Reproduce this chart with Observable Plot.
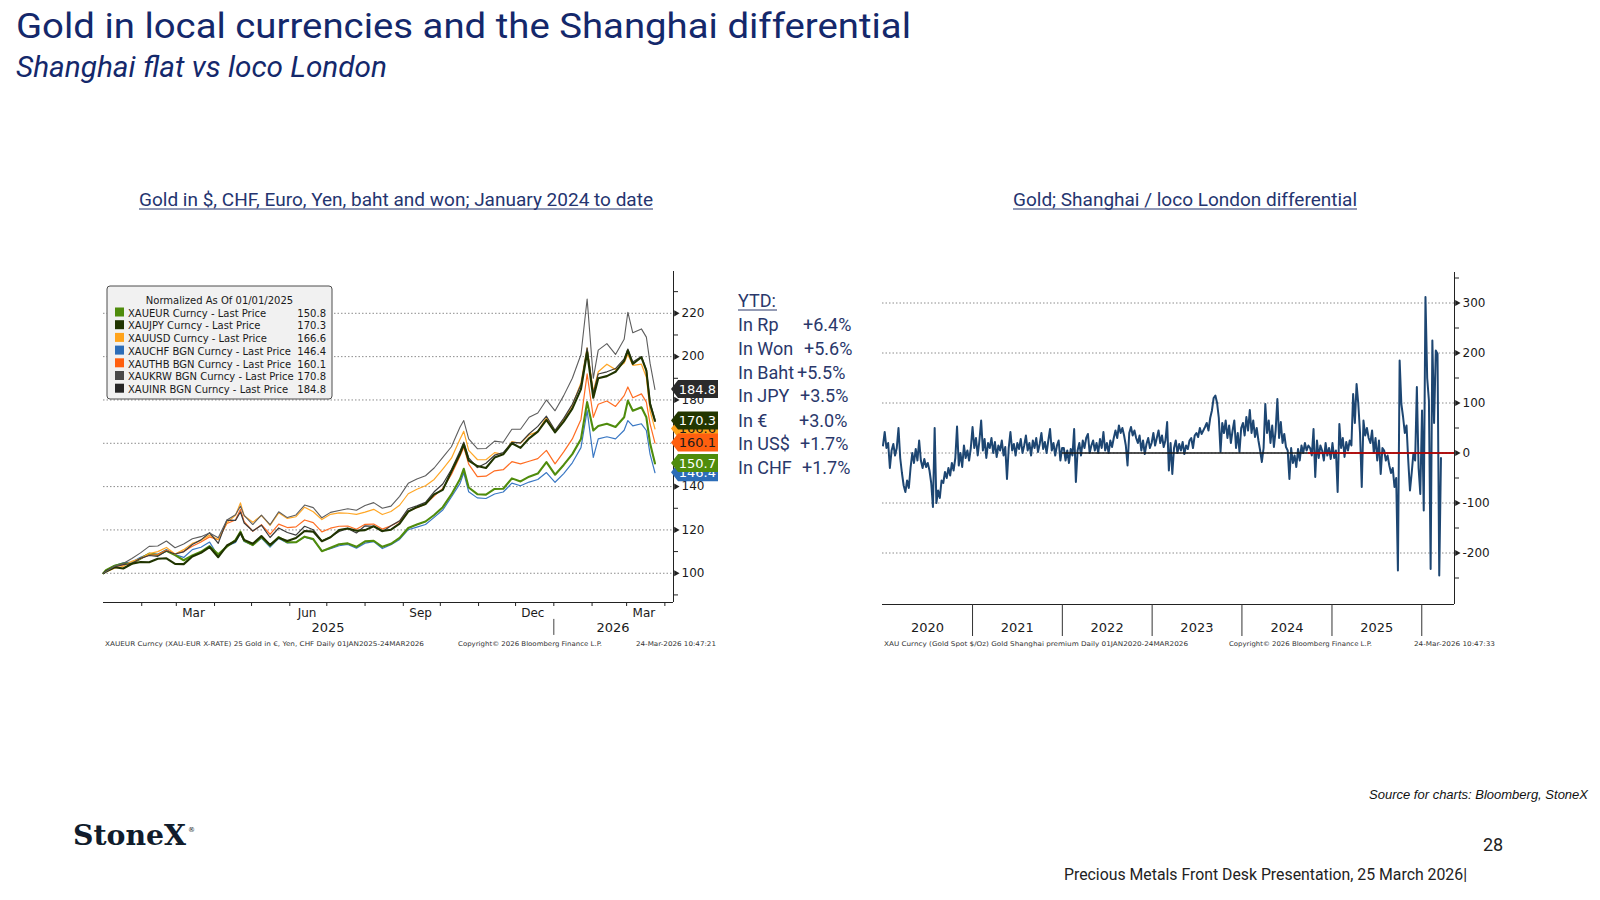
<!DOCTYPE html>
<html><head><meta charset="utf-8">
<script src="https://cdn.jsdelivr.net/npm/d3@7"></script>
<script src="https://cdn.jsdelivr.net/npm/@observablehq/plot@0.6"></script>
<style>
html,body{margin:0;padding:0;background:#fff;}
#page{position:relative;width:1600px;height:900px;overflow:hidden;background:#fff;}
.chart{position:absolute;}
</style></head>
<body><div id="page"></div>
<script>
// ---------------- LEFT CHART DATA (normalized, 01/01/2025 = 100) ----------------
const leftDates = ["2025-01-01","2025-01-03","2025-01-10","2025-01-17","2025-01-24","2025-01-31","2025-02-07","2025-02-14","2025-02-21","2025-02-28","2025-03-07","2025-03-14","2025-03-21","2025-03-28","2025-04-04","2025-04-11","2025-04-18","2025-04-22","2025-04-25","2025-05-02","2025-05-09","2025-05-16","2025-05-23","2025-05-30","2025-06-06","2025-06-13","2025-06-20","2025-06-27","2025-07-04","2025-07-11","2025-07-18","2025-07-25","2025-08-01","2025-08-08","2025-08-15","2025-08-22","2025-08-29","2025-09-05","2025-09-12","2025-09-19","2025-09-26","2025-10-03","2025-10-10","2025-10-17","2025-10-20","2025-10-24","2025-10-31","2025-11-07","2025-11-14","2025-11-21","2025-11-28","2025-12-05","2025-12-12","2025-12-19","2025-12-26","2026-01-02","2026-01-09","2026-01-16","2026-01-23","2026-01-28","2026-02-02","2026-02-06","2026-02-13","2026-02-20","2026-02-27","2026-03-02","2026-03-06","2026-03-13","2026-03-17","2026-03-20","2026-03-24"];

const xauUSD = [100, 100.6,102.3,103.2,105.5,106.8, 109.1,110.0,111.9,108.9, 110.9,113.8,115.2,117.6, 115.5,123.4,126.8,132.5,126.5, 123.5,126.7,122.1,127.9,125.3, 126.1,130.5,128.4,124.8, 127.2,127.9,127.7,127.2, 128.2,129.5,127.1,128.5,131.4, 136.7,138.8,140.4,143.3, 148.1,153.1,162.0,165.5,156.7,152.5, 152.4,155.7,154.9,160.8, 160.0,163.9,165.4,172.0, 165.5,171.0,177.5,188.0,204.0, 184.0,193.0,196.5,194.0,197.0, 201.0,196.0,196.5,190.5,175.0,166.6];
const xauJPY = [100, 100.8,102.8,102.2,104.4,105.2, 105.1,106.7,106.9,104.3, 104.2,107.7,109.4,112.1, 107.4,112.8,114.9,118.7,115.4, 113.6,117.2,113.1,116.4,114.9, 116.3,119.5,119.2,114.8, 116.6,120.0,120.7,119.6, 119.9,121.7,119.5,120.1,122.9, 128.5,130.5,132.0,136.4, 138.5,147.0,155.2,159.5,152.0,149.5, 148.6,153.4,154.9,160.0, 157.9,162.3,165.4,170.8, 165.0,170.0,176.0,185.0,202.0, 181.0,190.0,191.0,193.0,198.0, 202.8,196.6,199.7,193.5,178.0,170.3];
const xauKRW = [100, 100.9,103.0,104.0,104.5,106.9, 108.2,107.8,110.3,108.9, 109.9,113.3,115.4,118.7, 113.8,124.5,124.4,128.3,123.2, 119.5,122.2,116.5,120.9,118.8, 117.6,121.7,120.1,114.9, 116.7,119.3,120.7,118.6, 121.9,121.7,119.2,121.9,124.2, 129.8,131.1,132.7,137.6, 141.2,147.9,156.4,160.5,153.3,148.8, 150.8,154.5,155.7,160.4, 160.2,164.4,167.8,172.5, 166.0,171.5,178.0,187.0,204.0, 183.0,192.0,193.0,194.5,199.0, 203.5,197.5,200.0,194.0,179.0,170.8];
const xauINR = [100, 100.8,103.2,104.5,106.8,109.4, 112.4,112.6,114.9,111.8, 113.5,115.9,116.9,118.6, 116.4,124.6,127.0,131.0,126.7, 122.5,126.8,122.4,128.4,125.7, 126.9,131.5,130.3,125.6, 128.1,129.0,129.8,129.1, 131.3,132.6,130.0,131.0,135.5, 141.5,143.5,145.0,148.6, 153.5,158.4,167.5,170.5,162.0,157.5, 157.6,161.0,160.5,166.5, 166.5,172.0,174.0,180.0, 175.0,182.0,190.0,201.0,226.6, 190.0,203.0,206.0,201.0,208.0, 220.5,211.0,212.8,209.0,197.0,184.8];
const xauTHB = [100, 100.8,103.0,103.8,104.4,106.9, 108.3,108.6,110.6,108.9, 110.1,112.5,114.4,116.8, 115.5,123.0,124.6,129.5,123.8, 119.4,122.4,118.0,122.7,121.1, 121.4,124.6,123.4,119.1, 120.8,121.7,121.8,120.3, 122.6,122.7,120.4,121.9,123.9, 128.6,130.3,131.9,135.6, 139.2,145.6,154.1,158.2,150.4,144.6, 144.8,147.3,147.8,151.5, 150.5,151.7,152.9,156.7, 150.5,156.0,162.0,171.0,192.0, 172.0,178.0,179.5,177.0,182.0, 186.0,181.0,182.8,179.0,169.0,160.1];
const xauEUR = [100, 101.4,103.5,104.5,104.4,106.8, 109.1,108.4,110.4,108.4, 106.0,108.2,109.9,112.5, 108.8,112.3,115.3,119.2,115.1, 113.0,116.7,112.8,116.7,114.3, 114.3,116.9,115.8,110.2, 111.8,113.4,113.8,112.2, 114.7,115.0,112.2,113.6,116.3, 120.9,122.5,123.9,126.9, 130.5,136.4,143.5,148.2,139.6,136.5, 136.3,138.9,139.0,143.8, 142.4,144.6,146.0,151.3, 145.5,150.0,155.0,162.0,179.0, 165.9,168.0,169.0,167.5,172.0, 179.7,175.0,176.6,172.0,160.0,150.7];
const xauCHF = [100, 101.2,103.6,104.8,105.2,107.4, 108.9,108.8,110.9,108.6, 107.3,110.9,112.0,114.4, 107.9,112.5,114.2,118.4,114.7, 112.9,116.2,112.1,116.1,114.0, 114.3,116.7,115.5,110.3, 111.3,112.7,113.3,111.6, 113.9,114.6,111.4,113.2,115.6, 120.1,121.3,122.5,125.8, 129.2,135.2,141.5,146.4,137.6,134.8, 134.5,136.6,137.5,141.6, 140.4,142.1,143.3,146.5, 142.0,146.0,151.0,158.0,175.1, 153.5,162.0,163.0,162.0,166.0, 170.5,168.0,169.0,165.9,155.0,146.4];

const legendNames = ["XAUEUR Curncy - Last Price","XAUJPY Curncy - Last Price","XAUUSD Curncy - Last Price","XAUCHF BGN Curncy - Last Price","XAUTHB BGN Curncy - Last Price","XAUKRW BGN Curncy - Last Price","XAUINR BGN Curncy - Last Price"];
const legendLast = ["150.8","170.3","166.6","146.4","160.1","170.8","184.8"];
const legendColors = ["#4f8c0c","#203400","#ffa31a","#2c6db8","#ff5f0f","#4a4a4a","#262626"];

const tagValues = [166.6, 160.1, 170.3, 184.8, 146.4, 150.7];
const tagColors = ["#ffa31a","#ff5f0f","#223600","#2b2b2b","#2c6db8","#4f8c0c"];
const tagText   = ["#1a1a1a","#1a1a1a","#fff","#fff","#fff","#fff"];

const leftMajor = [100,120,140,160,180,200,220];
const leftMinor = [90,110,130,150,170,190,210,230];
const leftMonthLabels = ["Mar","Jun","Sep","Dec","Mar"];
const leftMonthLabelDates = ["2025-03-15","2025-06-15","2025-09-15","2025-12-15","2026-03-15"];
const leftYearLabels = ["2025","2026"];
const leftYearLabelDates = ["2025-07-02","2026-02-18"];

// ---------------- RIGHT CHART DATA (Shanghai premium, $/oz, weekly) ----------------
const sh2020 = [15,42,10,20,-30, 5,18,-5,10, 50,-10,-40,-65, -78,-55,-70,-30, 0,-20,8,-15,25, -15,-30,-12,-28, -20,-35,-60,-108,50, -100,-75,-90,-55, -60,-38,-50,-30, -45,-20,-35,-10,53, -25,0,-28,15, -10,5,-15,10];
const sh2021 = [52,10,30,-5,25, 65,5,28,-10, 20,10,30,0, 22,-8,15,5,25, -5,12,-52,10, 42,5,18,-5, 20,8,28,0,15, 35,5,20,-5, 25,10,30,2, 18,40,8,22,0, 25,48,5,20, -5,15,25,-15,10];
const sh2022 = [10,-15,5,-20, 8,-5,48,-58, 5,20,-5,25, 10,30,38,0,15, 25,5,20,0, 28,10,42,5, 20,0,25,12,30, 45,30,55,40, 50,35,15,-25,40, 52,35,45,30, 20,35,5,25, -2,18,30,10,20];
const sh2023 = [40,15,30,45, 20,35,12,25, 62,-35,20,-42,10, 25,0,18,5, 22,-2,15,8, 25,30,10,35,40, 32,50,38,45, 52,60,45,70, 85,110,115,100,70, 2,60,40,65, 30,55,20,45, 65,10,40,2,50];
const sh2024 = [60,35,72,45, 86,40,65,32, 50,25,5,-18,10, 98,40,65,20, 55,12,45,108,30, 62,20,38,12, 5,-52,10,-20, -5,-28,8,-15,15, 0,20,5,15, 10,-5,48,-48, 25,-10,15,5,-15, 20,-5,10,-12];
const sh2025 = [20,-10,5,-78,58, 10,30,-8,22, 5,25,15,118, 60,138,98,40, -68,65,35,50,30, 20,45,0,30, -15,25,-42,10, 5,-15,-5,-25,-40, -30,-68,-50,-235, 185,98,72,40,55, -15,-75,-40,0, -15,132,-30,-82];
const sh2026 = [85,-115,312,150,105, -232,225,60,205, 198,-245,-10];
const shYears = [sh2020, sh2021, sh2022, sh2023, sh2024, sh2025, sh2026];
const shFirstFriday = ["2020-01-03","2021-01-01","2022-01-07","2023-01-06","2024-01-05","2025-01-03","2026-01-02"];

const rightMajor = [-200,-100,0,100,200,300];
const rightMinor = [-250,-150,-50,50,150,250,350];
const rightYearLabels = ["2020","2021","2022","2023","2024","2025"];
const rightYearLabelDates = ["2020-07-02","2021-07-02","2022-07-02","2023-07-02","2024-07-02","2025-07-02"];
const rightYearSeps = ["2021-01-01","2022-01-01","2023-01-01","2024-01-01","2025-01-01","2026-01-01"];

// ---------------- BUILD ----------------
const parse = d3.utcParse("%Y-%m-%d");
const page = document.getElementById("page");
const dotted = {stroke:"#8c8c8c", strokeDasharray:"1.5,2", strokeWidth:1};
const axisStyle = {fontFamily:"DejaVu Sans", fontSize:"12px", color:"#1a1a1a", background:"none", overflow:"visible"};

// Left chart
const lDates = leftDates.map(parse);
const lSeries = [
  {v: xauCHF, c:"#3a78c4", w:1.2},
  {v: xauEUR, c:"#4f8c0c", w:2.1},
  {v: xauTHB, c:"#ff6d22", w:1.2},
  {v: xauUSD, c:"#ffa727", w:1.2},
  {v: xauKRW, c:"#3d3d3d", w:1.2},
  {v: xauJPY, c:"#203400", w:2.1},
  {v: xauINR, c:"#5e5e5e", w:1.1}
];
const xL0 = parse("2025-01-01"), xL1 = parse("2026-04-08");
const yL0 = 86.5, yL1 = 239.3;
const lMonthTicks = d3.utcMonth.range(parse("2025-02-01"), parse("2026-04-02"));
const lMonthMap = new Map(leftMonthLabelDates.map((d,i)=>[+parse(d), leftMonthLabels[i]]));
const lYearMap = new Map(leftYearLabelDates.map((d,i)=>[+parse(d), leftYearLabels[i]]));

const leftChart = Plot.plot({
  width: 680, height: 410,
  marginLeft: 43, marginRight: 67, marginTop: 21, marginBottom: 58,
  x: {type:"utc", domain:[xL0, xL1], label:null},
  y: {domain:[yL0, yL1], label:null},
  style: axisStyle,
  marks: [
    Plot.ruleY(leftMajor, dotted),
    ...lSeries.map(s => Plot.line(lDates.map((d,i)=>({date:d, v:s.v[i]})), {x:"date", y:"v", stroke:s.c, strokeWidth:s.w, strokeLinejoin:"round"})),
    Plot.ruleY([yL0], {stroke:"#222"}),
    Plot.ruleX([xL1], {stroke:"#222"}),
    Plot.axisY({ticks:leftMinor, anchor:"right", label:null, tickSize:4, tickFormat:()=>"", stroke:"#222"}),
    Plot.axisY({ticks:leftMajor, anchor:"right", label:null, tickSize:0, tickPadding:8, tickFormat:d=>String(d)}),
    Plot.dot(leftMajor, {x:()=>xL1, y:d=>d, symbol:"triangle", rotate:90, r:2.3, fill:"#222", dx:2.5}),
    Plot.axisX({ticks:lMonthTicks, label:null, tickSize:4, tickFormat:()=>"", stroke:"#222"}),
    Plot.axisX({ticks:leftMonthLabelDates.map(parse), label:null, tickSize:0, tickPadding:6, tickFormat:d=>lMonthMap.get(+d)}),
    Plot.axisX({ticks:leftYearLabelDates.map(parse), label:null, tickSize:0, tickPadding:20, fontSize:13, tickFormat:d=>lYearMap.get(+d)}),
    Plot.ruleX([parse("2026-01-01")], {y1:()=>78.7, y2:()=>71.3, stroke:"#444"})
  ]
});
leftChart.classList.add("chart");
leftChart.style.left = "60px"; leftChart.style.top = "250px";
page.appendChild(leftChart);

// value tags on the left chart's right axis, positioned with the chart's scales
{
  const ys = leftChart.scale("y"), xs = leftChart.scale("x");
  const ax = xs.apply(xL1);
  const g = d3.select(leftChart).append("g");
  tagValues.forEach((v,i)=>{
    const y = ys.apply(v), x0 = ax - 2, x1 = ax + 45, h = 9;
    g.append("polygon").attr("points", `${x0},${y} ${x0+7},${y-h} ${x1},${y-h} ${x1},${y+h} ${x0+7},${y+h}`).attr("fill", tagColors[i]);
    g.append("text").attr("x", x1-2).attr("y", y+4.6).attr("text-anchor","end")
      .attr("font-family","DejaVu Sans").attr("font-size",13).attr("fill",tagText[i]).text(v.toFixed(1));
  });
}

// Right chart
const shData = [];
shYears.forEach((arr, k) => {
  const start = parse(shFirstFriday[k]);
  arr.forEach((v,i)=> shData.push({date: d3.utcDay.offset(start, 7*i), v}));
});
const xR0 = parse("2020-01-01"), xR1 = parse("2026-05-14");
const yR0 = -303, yR1 = 361;
const rYearMap = new Map(rightYearLabelDates.map((d,i)=>[+parse(d), rightYearLabels[i]]));

const rightChart = Plot.plot({
  width: 680, height: 410,
  marginLeft: 42, marginRight: 66, marginTop: 22, marginBottom: 56,
  x: {type:"utc", domain:[xR0, xR1], label:null},
  y: {domain:[yR0, yR1], label:null},
  style: axisStyle,
  marks: [
    Plot.ruleY(rightMajor, dotted),
    Plot.line(shData, {x:"date", y:"v", stroke:"#1d4672", strokeWidth:2, strokeLinejoin:"round"}),
    Plot.ruleY([0], {x1:()=>parse("2022-01-01"), x2:()=>xR1, stroke:"#1a1a1a", strokeWidth:1.5}),
    Plot.ruleY([0], {x1:()=>parse("2024-09-27"), x2:()=>xR1, stroke:"#d00000", strokeWidth:1.7}),
    Plot.ruleY([yR0], {stroke:"#222"}),
    Plot.ruleX([xR1], {stroke:"#222"}),
    Plot.axisY({ticks:rightMinor, anchor:"right", label:null, tickSize:4, tickFormat:()=>"", stroke:"#222"}),
    Plot.axisY({ticks:rightMajor, anchor:"right", label:null, tickSize:0, tickPadding:8, tickFormat:d=>String(d)}),
    Plot.dot(rightMajor, {x:()=>xR1, y:d=>d, symbol:"triangle", rotate:90, r:2.3, fill:"#222", dx:2.5}),
    Plot.axisX({ticks:rightYearSeps.map(parse), label:null, tickSize:32, tickFormat:()=>"", stroke:"#333"}),
    Plot.axisX({ticks:rightYearLabelDates.map(parse), label:null, tickSize:0, tickPadding:18, fontSize:13, tickFormat:d=>rYearMap.get(+d)})
  ]
});
rightChart.classList.add("chart");
rightChart.style.left = "840px"; rightChart.style.top = "250px";
page.appendChild(rightChart);

// ---------------- TEXT OVERLAY ----------------
const ov = d3.select(page).append("svg").attr("width",1600).attr("height",900)
  .style("position","absolute").style("left","0px").style("top","0px").style("pointer-events","none");
function txt(x,y,s,o={}){
  const t = ov.append("text").attr("x",x).attr("y",y).text(s)
    .attr("font-family", o.ff || "Roboto").attr("font-size", o.fs || 16).attr("fill", o.fill || "#1e2f6e");
  if (o.anchor) t.attr("text-anchor", o.anchor);
  if (o.italic) t.attr("font-style","italic");
  if (o.weight) t.attr("font-weight", o.weight);
  if (o.len) t.attr("textLength", o.len).attr("lengthAdjust","spacingAndGlyphs");
  return t;
}
function uline(x1,x2,y,c){ ov.append("line").attr("x1",x1).attr("x2",x2).attr("y1",y).attr("y2",y).attr("stroke",c).attr("stroke-width",1); }

const navy = "#14286b";
txt(16, 37.5, "Gold in local currencies and the Shanghai differential", {fs:35, fill:navy, len:895});
txt(16, 77, "Shanghai  flat vs loco London", {fs:29, fill:navy, italic:true, len:371});

txt(139, 206, "Gold in $, CHF, Euro, Yen, baht and won; January 2024 to date", {fs:18, fill:"#24346f", len:514});
uline(139, 653, 209, "#24346f");
txt(1013, 206, "Gold; Shanghai / loco London differential", {fs:18, fill:"#24346f", len:344});
uline(1013, 1357, 209, "#24346f");

// YTD block
const ytdLabels = ["In Rp","In Won","In Baht","In JPY","In €","In US$","In CHF"];
const ytdValues = ["+6.4%","+5.6%","+5.5%","+3.5%","+3.0%","+1.7%","+1.7%"];
const ytdValueX = [803, 804, 797, 800, 799, 800, 802];
const ytdBase = [331, 355, 378.5, 402, 426.5, 450, 473.5];
const ytdCol = "#2a386b";
txt(738, 307, "YTD:", {fs:18, fill:ytdCol});
uline(738, 777, 310, ytdCol);
ytdLabels.forEach((l,i)=>{
  txt(738, ytdBase[i], l, {fs:18, fill:ytdCol});
  txt(ytdValueX[i], ytdBase[i], ytdValues[i], {fs:18, fill:ytdCol});
});

// legend box
ov.append("rect").attr("x",107).attr("y",286).attr("width",225).attr("height",113).attr("rx",3)
  .attr("fill","#f1f1f1").attr("stroke","#4d4d4d").attr("stroke-width",1);
txt(219.5, 303.5, "Normalized As Of 01/01/2025", {ff:"DejaVu Sans", fs:10, fill:"#1a1a1a", anchor:"middle"});
legendNames.forEach((n,i)=>{
  const b = 316.7 + i*12.7;
  ov.append("rect").attr("x",115).attr("y",b-9.2).attr("width",9).attr("height",9).attr("fill",legendColors[i]);
  txt(128, b, n, {ff:"DejaVu Sans", fs:10, fill:"#1a1a1a"});
  txt(326, b, legendLast[i], {ff:"DejaVu Sans", fs:10, fill:"#1a1a1a", anchor:"end"});
});

// Bloomberg footnotes
const fn = {ff:"DejaVu Sans", fs:6.5, fill:"#333"};
txt(105, 646, "XAUEUR Curncy (XAU-EUR X-RATE) 25 Gold in €, Yen, CHF Daily 01JAN2025-24MAR2026", {...fn, len:319});
txt(458, 646, "Copyright© 2026 Bloomberg Finance L.P.", {...fn, len:144});
txt(636, 646, "24-Mar-2026 10:47:21", {...fn, len:80});
txt(884, 646, "XAU Curncy (Gold Spot  $/Oz) Gold Shanghai premium Daily 01JAN2020-24MAR2026", {...fn, len:304});
txt(1229, 646, "Copyright© 2026 Bloomberg Finance L.P.", {...fn, len:143});
txt(1414, 646, "24-Mar-2026 10:47:33", {...fn, len:81});

// footer
txt(1588, 799, "Source for charts: Bloomberg, StoneX", {ff:"Liberation Sans", fs:13, fill:"#111", italic:true, anchor:"end"});
txt(1483, 851, "28", {fs:18, fill:"#222"});
txt(1064, 880, "Precious Metals Front Desk Presentation, 25 March 2026|", {fs:16, fill:"#222", len:403});
txt(73, 845, "StoneX", {ff:"DejaVu Serif", fs:28, fill:"#101c2c", weight:"bold", len:113});
txt(188, 832, "®", {ff:"DejaVu Sans", fs:7, fill:"#101c2c"});
</script>
</body></html>
